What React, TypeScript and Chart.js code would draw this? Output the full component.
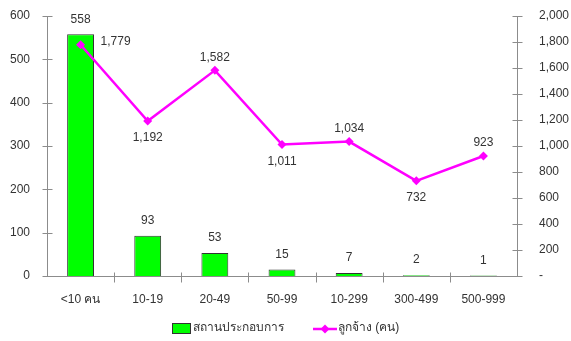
import React, { useEffect, useRef } from "react";
import { Chart, registerables } from "chart.js";

Chart.register(...registerables);

const categories = ["<10 คน", "10-19", "20-49", "50-99", "10-299", "300-499", "500-999"];
const establishments = [558, 93, 53, 15, 7, 2, 1];
const employees = [1779, 1192, 1582, 1011, 1034, 732, 923];
const barLabel = "สถานประกอบการ";
const lineLabel = "ลูกจ้าง (คน)";
const lineLabelPos = ["right", "below", "above", "below", "above", "below", "above"];

const FONT = "'Liberation Sans', Tahoma, Arial, sans-serif";
const FS = 12;
const TEXT = "#333333";
const AXIS = "#8c8c8c";
const GREEN = "#00ff00";
const MAGENTA = "#ff00ff";

const fmt = (v: number) => v.toLocaleString("en-US");

const decor = {
  id: "decor",
  beforeDatasetsDraw(chart: any) {
    const { ctx, chartArea: a, scales } = chart;
    ctx.save();
    ctx.strokeStyle = AXIS;
    ctx.lineWidth = 1;
    ctx.beginPath();
    const L = Math.round(a.left) + 0.5;
    const R = Math.round(a.right) + 0.5;
    const B = Math.round(a.bottom) + 0.5;
    ctx.moveTo(L, a.top);
    ctx.lineTo(L, B);
    ctx.moveTo(R, a.top);
    ctx.lineTo(R, B);
    ctx.moveTo(L, B);
    ctx.lineTo(R, B);
    scales.y.ticks.forEach((t: any) => {
      const y = Math.round(scales.y.getPixelForValue(t.value)) + 0.5;
      ctx.moveTo(L - 5, y);
      ctx.lineTo(L + 5, y);
    });
    scales.y1.ticks.forEach((t: any) => {
      const y = Math.round(scales.y1.getPixelForValue(t.value)) + 0.5;
      ctx.moveTo(R - 5, y);
      ctx.lineTo(R + 5, y);
    });
    const n = categories.length;
    for (let i = 1; i < n; i++) {
      const x = Math.round((scales.x.getPixelForValue(i) + scales.x.getPixelForValue(i - 1)) / 2) + 0.5;
      ctx.moveTo(x, B - 4);
      ctx.lineTo(x, B + 6);
    }
    ctx.stroke();
    ctx.restore();
  },
  afterDatasetsDraw(chart: any) {
    const { ctx } = chart;
    ctx.save();
    ctx.font = `${FS}px ${FONT}`;
    ctx.fillStyle = TEXT;
    const barMeta = chart.getDatasetMeta(0);
    barMeta.data.forEach((el: any, i: number) => {
      ctx.textAlign = "center";
      ctx.textBaseline = "middle";
      ctx.fillText(fmt(establishments[i]), el.x, el.y - 15);
    });
    const lineMeta = chart.getDatasetMeta(1);
    lineMeta.data.forEach((el: any, i: number) => {
      const pos = lineLabelPos[i];
      ctx.textBaseline = "middle";
      if (pos === "right") {
        ctx.textAlign = "left";
        ctx.fillText(fmt(employees[i]), el.x + 20, el.y - 3);
      } else if (pos === "below") {
        ctx.textAlign = "center";
        ctx.fillText(fmt(employees[i]), el.x, el.y + 17);
      } else {
        ctx.textAlign = "center";
        ctx.fillText(fmt(employees[i]), el.x, el.y - 13);
      }
    });
    ctx.restore();
  },
  afterDraw(chart: any) {
    const { ctx } = chart;
    ctx.save();
    ctx.font = `${FS}px ${FONT}`;
    const cy = 328;
    const w1 = ctx.measureText(barLabel).width;
    const w2 = ctx.measureText(lineLabel).width;
    const total = 19 + 2 + w1 + 29 + 24 + 1 + w2;
    let x = Math.round((chart.width - total) / 2);
    ctx.fillStyle = GREEN;
    ctx.fillRect(x, cy - 5, 19, 11);
    ctx.strokeStyle = "#333333";
    ctx.lineWidth = 1;
    ctx.strokeRect(x + 0.5, cy - 4.5, 18, 10);
    x += 21;
    ctx.fillStyle = TEXT;
    ctx.textAlign = "left";
    ctx.textBaseline = "middle";
    ctx.fillText(barLabel, x, cy);
    x += w1 + 29;
    ctx.strokeStyle = MAGENTA;
    ctx.lineWidth = 2.5;
    ctx.beginPath();
    ctx.moveTo(x, cy + 1);
    ctx.lineTo(x + 24, cy + 1);
    ctx.stroke();
    ctx.fillStyle = MAGENTA;
    ctx.beginPath();
    const dx = x + 12;
    ctx.moveTo(dx, cy + 1 - 4.5);
    ctx.lineTo(dx + 4.5, cy + 1);
    ctx.lineTo(dx, cy + 1 + 4.5);
    ctx.lineTo(dx - 4.5, cy + 1);
    ctx.closePath();
    ctx.fill();
    x += 25;
    ctx.fillStyle = TEXT;
    ctx.fillText(lineLabel, x, cy);
    ctx.restore();
  },
};

const zeroPad = (s: any) => {
  s.paddingTop = 0;
  s.paddingBottom = 0;
  s.paddingLeft = 0;
  s.paddingRight = 0;
};

export default function App() {
  const ref = useRef<HTMLCanvasElement>(null);
  useEffect(() => {
    document.body.style.margin = "0";
    const chart = new Chart(ref.current as HTMLCanvasElement, {
      type: "bar",
      data: {
        labels: categories,
        datasets: [
          {
            type: "bar",
            label: barLabel,
            data: establishments,
            backgroundColor: GREEN,
            borderColor: "#333333",
            borderWidth: 1,
            categoryPercentage: 0.4,
            barPercentage: 1,
            yAxisID: "y",
            order: 1,
          } as any,
          {
            type: "line",
            label: lineLabel,
            data: employees,
            borderColor: MAGENTA,
            backgroundColor: MAGENTA,
            borderWidth: 2.5,
            pointStyle: "rectRot",
            pointRadius: 4.5,
            pointBorderWidth: 0,
            tension: 0,
            yAxisID: "y1",
            order: 0,
          } as any,
        ],
      },
      options: {
        responsive: false,
        animation: false,
        devicePixelRatio: 1,
        layout: { padding: { top: 16, left: 0, right: 0, bottom: 0 } },
        plugins: { legend: { display: false }, tooltip: { enabled: false } },
        scales: {
          x: {
            offset: true,
            grid: { display: false, drawTicks: false },
            border: { display: false },
            ticks: { color: TEXT, font: { family: FONT, size: FS }, padding: 16, maxRotation: 0, autoSkip: false },
            afterFit: (s: any) => {
              s.height = 65;
              zeroPad(s);
            },
          },
          y: {
            position: "left",
            min: 0,
            max: 600,
            grid: { display: false, drawTicks: false },
            border: { display: false },
            ticks: { stepSize: 100, color: TEXT, font: { family: FONT, size: FS }, padding: 17 },
            afterFit: (s: any) => {
              s.width = 47;
              zeroPad(s);
            },
          },
          y1: {
            position: "right",
            min: 0,
            max: 2000,
            grid: { display: false, drawTicks: false },
            border: { display: false },
            ticks: {
              stepSize: 200,
              color: TEXT,
              font: { family: FONT, size: FS },
              padding: 22,
              callback: (v: any) => (v === 0 ? "-" : fmt(Number(v))),
            },
            afterFit: (s: any) => {
              s.width = 54;
              zeroPad(s);
            },
          },
        },
      },
      plugins: [decor],
    });
    return () => chart.destroy();
  }, []);
  return (
    <div style={{ position: "absolute", left: 0, top: 0, width: 571, height: 341 }}>
      <canvas ref={ref} width={571} height={341} />
    </div>
  );
}
